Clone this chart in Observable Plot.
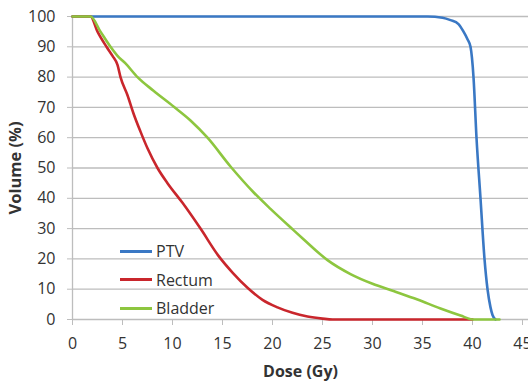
<!DOCTYPE html>
<html><head><meta charset="utf-8">
<script src="https://cdn.jsdelivr.net/npm/d3@7"></script>
<script src="https://cdn.jsdelivr.net/npm/@observablehq/plot@0.6"></script>
<style>
body{margin:0;background:#fff;font-family:"Open Sans",sans-serif}
#wrap{position:relative;width:528px;height:382px;overflow:hidden}
#legend{position:absolute;left:120px;top:237px;font-size:16px;color:#333}
#legend .row{display:flex;align-items:center;height:28.6px}
#legend .sw{width:32px;height:3px;margin-right:4px}
</style>
</head><body><div id="wrap"></div>
<script>
const series = ["PTV", "Rectum", "Bladder"];
const colors = ["#3a78c4", "#c9262c", "#8dc63f"];

const ptvDose = [0, 35.5, 37, 37.8, 38.6, 39.1, 39.5, 39.8, 40.1, 40.4, 40.8, 41.2, 41.5, 41.8, 42, 42.3];
const ptvVol  = [100, 100, 99.6, 98.8, 97.5, 95, 92.5, 90, 80, 60, 40, 20, 10, 4, 1.5, 0];

const rectumDose = [0, 1.8, 2.5, 3.4, 4.0, 4.5, 4.8, 5.5, 6.1, 6.8, 7.5, 8.5, 9.5, 11, 12.8, 14.6, 16, 17.5, 19, 20.5, 22, 23.5, 25, 26, 30, 35, 40];
const rectumVol  = [100, 100, 95, 90, 87, 84, 80, 74, 68, 62, 56.5, 50, 45, 38.5, 30, 21, 15.5, 10.5, 6.5, 4, 2.2, 1, 0.3, 0, 0, 0, 0];

const bladderDose = [0, 1.8, 2.8, 3.8, 4.5, 5.3, 6.5, 8.1, 10.1, 11.8, 13.5, 15.8, 18.1, 19.8, 22.1, 23.1, 25.5, 27.8, 30, 32.1, 34.5, 36.8, 38.8, 40.1, 42.7];
const bladderVol  = [100, 100, 95, 90, 87, 84.5, 80, 75.5, 70.3, 65.7, 60, 50.5, 42, 36.5, 29.5, 26.5, 19.6, 15, 11.8, 9.4, 6.6, 3.6, 1.3, 0, 0];

const xTicks = [0, 5, 10, 15, 20, 25, 30, 35, 40, 45];
const yTicks = [0, 10, 20, 30, 40, 50, 60, 70, 80, 90, 100];
const xLabel = "Dose (Gy)";
const yLabel = "Volume (%)";

const doses = [ptvDose, rectumDose, bladderDose];
const vols = [ptvVol, rectumVol, bladderVol];
const data = series.flatMap((s, i) => doses[i].map((d, j) => ({series: s, dose: d, vol: vols[i][j]})));

const grid = "#bdbdbd";
const chart = Plot.plot({
  width: 528, height: 382,
  marginLeft: 72, marginRight: 0, marginTop: 16, marginBottom: 63,
  style: {fontFamily: "'Open Sans', sans-serif", background: "#fff", color: "#333"},
  x: {domain: [0, 45.6]},
  y: {domain: [0, 100]},
  color: {domain: series, range: colors},
  marks: [
    Plot.ruleY(yTicks, {stroke: grid, strokeWidth: 1.3}),
    Plot.ruleX([0], {stroke: grid, strokeWidth: 1.3}),
    Plot.axisY({ticks: yTicks, tickSize: 5, tickPadding: 12, fontSize: 16, stroke: grid, strokeOpacity: 1, label: null}),
    Plot.axisX({ticks: xTicks, tickSize: 6, tickPadding: 12, fontSize: 16, stroke: grid, strokeOpacity: 1, label: null}),
    Plot.line(data, {x: "dose", y: "vol", z: "series", stroke: "series", strokeWidth: 2.6, curve: "monotone-x"}),
    Plot.text([xLabel], {frameAnchor: "bottom", dy: 57, fontSize: 16, fontWeight: "bold", fill: "#333"}),
    Plot.text([yLabel], {frameAnchor: "left", textAnchor: "middle", dx: -57, dy: 0, rotate: -90, fontSize: 16.5, fontWeight: "bold", fill: "#333"})
  ]
});
const wrap = document.getElementById("wrap");
wrap.appendChild(chart);
const legend = document.createElement("div");
legend.id = "legend";
series.forEach((s, i) => {
  const row = document.createElement("div");
  row.className = "row";
  const sw = document.createElement("span");
  sw.className = "sw";
  sw.style.background = colors[i];
  const t = document.createElement("span");
  t.textContent = s;
  row.appendChild(sw); row.appendChild(t);
  legend.appendChild(row);
});
wrap.appendChild(legend);
</script>
</body></html>
